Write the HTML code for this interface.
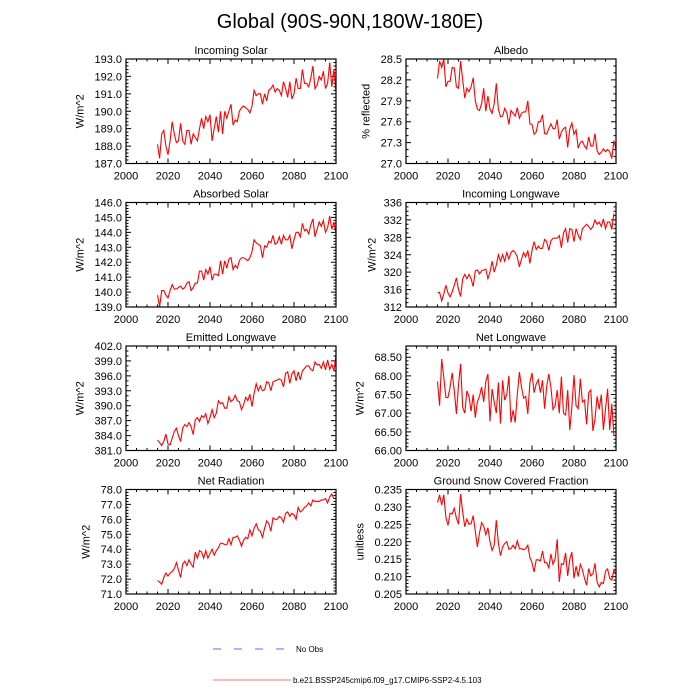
<!DOCTYPE html>
<html><head><meta charset="utf-8"><style>
html,body{margin:0;padding:0;background:#fff;}
svg{display:block;font-family:"Liberation Sans",sans-serif;}
</style></head><body>
<svg id="chart" width="700" height="700" viewBox="0 0 700 700">
<text x="350" y="28" text-anchor="middle" font-size="20">Global (90S-90N,180W-180E)</text>
<g>
<line x1="213" y1="649" x2="289" y2="649" stroke="#6666ff" stroke-width="1" stroke-dasharray="8,13"/>
<text x="296" y="652" font-size="8">No Obs</text>
<line x1="213" y1="680" x2="291" y2="680" stroke="#ff7070" stroke-width="1"/>
<text x="293" y="683" font-size="8">b.e21.BSSP245cmip6.f09_g17.CMIP6-SSP2-4.5.103</text>
</g>
</svg>
<script>
const startYear = 2015;
const xTicks = [2000,2020,2040,2060,2080,2100];
const incomingSolar = [188.1,187.3,188.7,188.9,188.0,187.5,188.3,189.4,188.7,188.2,188.3,189.3,188.3,188.1,188.9,188.9,188.1,188.7,188.5,188.3,189.0,189.6,189.0,189.7,189.4,189.8,188.3,189.0,189.7,188.8,190.0,188.7,190.0,189.6,190.0,190.4,189.2,189.5,189.4,190.0,190.2,190.3,190.2,190.1,189.9,190.3,191.2,190.9,191.0,191.0,190.4,191.0,190.6,191.2,191.3,191.5,191.1,191.3,191.2,190.9,191.7,191.3,190.8,191.7,190.7,191.0,191.9,191.3,191.3,192.4,191.6,191.6,191.4,191.9,192.6,191.3,191.5,192.0,191.8,192.3,191.3,191.6,192.8,191.4,192.4,191.1];
const albedo = [28.22,28.47,28.38,28.50,28.10,28.18,28.18,28.38,28.37,28.10,28.08,28.47,28.20,27.94,28.08,28.03,28.10,28.23,27.90,27.78,27.76,27.86,28.08,27.75,27.97,27.78,27.72,27.86,28.15,27.78,27.67,27.68,27.79,27.73,27.56,27.76,27.72,27.68,27.80,27.65,27.72,27.74,27.74,27.90,27.57,27.56,27.42,27.45,27.60,27.60,27.70,27.43,27.42,27.50,27.57,27.50,27.50,27.63,27.35,27.45,27.50,27.52,27.23,27.50,27.58,27.42,27.48,27.22,27.30,27.32,27.25,27.21,27.38,27.25,27.25,27.43,27.18,27.13,27.16,27.21,27.17,27.20,27.17,27.07,27.33,27.20];
const absorbedSolar = [139.8,139.0,140.1,140.1,139.8,139.6,140.1,140.5,140.2,140.2,140.3,140.4,140.2,140.3,140.6,140.7,140.1,140.3,140.6,140.6,141.4,141.4,140.8,141.5,141.2,141.7,140.8,141.2,141.2,141.1,142.1,141.2,142.1,141.6,142.2,142.3,141.5,141.8,141.6,142.1,142.3,142.3,142.2,142.1,142.3,142.7,143.5,143.3,143.2,143.1,142.3,143.1,143.0,143.4,143.3,143.8,143.2,143.3,143.7,143.2,143.8,143.5,143.5,143.8,142.9,143.5,144.0,144.0,143.7,144.6,144.1,144.2,143.9,144.5,144.9,143.7,144.2,144.7,144.4,144.8,144.0,144.3,145.1,144.2,144.7,143.9];
const incomingLongwave = [315.2,315.4,313.4,315.0,317.0,315.2,314.3,315.5,317.0,318.7,316.0,314.4,318.5,319.5,318.5,319.5,318.5,316.7,320.3,320.5,319.6,320.3,320.5,320.7,318.5,320.0,322.5,320.0,321.6,324.0,322.5,324.0,322.5,324.5,323.0,324.5,325.0,324.5,323.5,321.2,323.0,324.5,323.5,325.0,322.0,325.0,327.0,325.2,326.0,325.4,325.5,327.5,327.0,325.0,327.2,327.8,327.8,327.8,328.4,325.6,329.0,330.0,326.8,330.0,329.8,327.0,330.0,328.5,327.5,330.0,330.5,331.0,330.5,329.8,330.5,332.0,331.0,331.5,330.5,332.2,330.0,331.5,331.5,329.8,333.5];
const emittedLongwave = [383.1,382.6,382.0,382.8,384.3,382.3,382.1,383.5,384.8,385.5,384.0,382.8,385.5,386.2,385.8,386.6,385.8,384.2,387.2,387.6,386.8,388.0,387.6,388.4,386.4,387.6,389.2,387.6,388.5,391.0,390.4,390.6,389.5,389.5,391.8,390.8,391.2,392.1,391.0,390.8,389.2,390.2,391.7,391.0,392.3,389.8,392.5,394.4,393.0,394.0,393.0,393.2,394.8,394.6,393.0,394.8,395.0,395.2,395.4,395.1,393.8,396.5,396.8,394.5,396.4,397.0,395.0,396.8,395.2,397.0,397.5,398.0,398.0,397.3,397.0,398.8,398.2,398.3,397.5,398.8,397.2,399.2,397.3,398.3,397.0,400.2];
const netLongwave = [67.85,67.2,68.45,67.95,67.42,67.42,67.7,68.08,67.6,66.98,67.75,68.32,67.15,67.0,67.6,67.45,67.05,67.5,66.88,67.3,67.45,67.7,67.3,67.85,68.05,66.78,67.65,67.3,67.0,67.82,66.72,67.88,67.35,67.5,68.0,66.75,67.08,66.75,67.5,68.1,67.7,67.4,67.45,66.98,67.82,68.08,67.55,67.78,67.9,67.55,67.88,67.12,67.72,68.05,67.7,67.1,67.2,67.62,67.0,67.98,67.0,66.95,67.62,66.55,67.18,68.02,67.2,67.12,67.92,67.3,67.35,66.7,67.55,67.62,66.52,66.85,67.45,67.1,67.5,66.55,67.1,67.65,66.55,67.25,66.4];
const netRadiation = [71.9,71.8,71.65,72.1,72.4,72.2,72.4,72.5,72.7,73.1,72.6,72.1,73.0,73.2,72.9,73.3,73.0,72.8,73.8,73.4,73.9,73.8,73.4,73.9,73.4,73.7,74.0,73.6,73.9,74.1,74.4,74.4,74.3,74.3,74.7,74.3,74.8,74.8,74.9,74.6,74.2,74.6,74.8,74.7,75.3,74.9,75.4,75.7,75.3,75.2,74.8,75.4,75.9,75.7,75.2,76.1,76.0,76.0,76.2,76.1,75.8,76.4,76.5,76.2,76.4,76.3,76.0,76.8,76.5,76.6,76.8,76.9,77.1,76.9,77.3,77.2,77.2,77.2,77.3,77.3,77.4,77.1,77.5,77.7,77.4];
const snowFraction = [0.2312,0.2335,0.2305,0.2335,0.2270,0.2247,0.2282,0.2280,0.2296,0.2268,0.2250,0.2337,0.2285,0.2243,0.2265,0.2250,0.2252,0.2275,0.2230,0.2185,0.2225,0.2255,0.2245,0.2220,0.2240,0.2200,0.2175,0.2190,0.2262,0.2195,0.2160,0.2185,0.2195,0.2200,0.2178,0.2180,0.2190,0.2180,0.2203,0.2180,0.2180,0.2177,0.2180,0.2190,0.2155,0.2140,0.2113,0.2148,0.2148,0.2145,0.2173,0.2140,0.2140,0.2125,0.2165,0.2135,0.2150,0.2207,0.2085,0.2137,0.2135,0.2168,0.2102,0.2150,0.2170,0.2095,0.2130,0.2100,0.2135,0.2120,0.2095,0.2075,0.2123,0.2102,0.2108,0.2138,0.2085,0.2070,0.2083,0.2080,0.2115,0.2122,0.2095,0.2090,0.2120,0.2108];
const panelTitles = ["Incoming Solar","Albedo","Absorbed Solar","Incoming Longwave","Emitted Longwave","Net Longwave","Net Radiation","Ground Snow Covered Fraction"];
const yTitles = ["W/m^2","% reflected","W/m^2","W/m^2","W/m^2","W/m^2","W/m^2","unitless"];

const panels = [
 {title:panelTitles[0],yt:yTitles[0],data:incomingSolar,min:187,max:193,step:1,dec:1,minor:5},
 {title:panelTitles[1],yt:yTitles[1],data:albedo,min:27.0,max:28.5,step:0.3,dec:1,minor:3},
 {title:panelTitles[2],yt:yTitles[2],data:absorbedSolar,min:139,max:146,step:1,dec:1,minor:5},
 {title:panelTitles[3],yt:yTitles[3],data:incomingLongwave,min:312,max:336,step:4,dec:0,minor:4},
 {title:panelTitles[4],yt:yTitles[4],data:emittedLongwave,min:381,max:402,step:3,dec:1,minor:3},
 {title:panelTitles[5],yt:yTitles[5],data:netLongwave,min:66,max:68.8,step:0.5,dec:2,minor:5},
 {title:panelTitles[6],yt:yTitles[6],data:netRadiation,min:71,max:78,step:1,dec:1,minor:5},
 {title:panelTitles[7],yt:yTitles[7],data:snowFraction,min:0.205,max:0.235,step:0.005,dec:3,minor:5}
];
const NS='http://www.w3.org/2000/svg';
const svg=document.getElementById('chart');
function mk(tag,attrs,parent){const e=document.createElementNS(NS,tag);for(const k in attrs)e.setAttribute(k,attrs[k]);(parent||svg).appendChild(e);return e;}
const lefts=[126,406], tops=[59,202.5,346,489.5], W=210, H=104.5;
function slug(s){return s.toLowerCase().replace(/[^a-z0-9]+/g,'-').replace(/^-|-$/g,'');}
panels.forEach((p,i)=>{
  const L=lefts[i%2], T=tops[Math.floor(i/2)], B=T+H, R=L+W;
  const xs=v=>L+(v-2000)/100*W;
  const ys=v=>B-(v-p.min)/(p.max-p.min)*H;
  const g=mk('g',{});
  
  
  const t=mk('text',{x:(L+R)/2,y:T-5,'text-anchor':'middle','font-size':'11'},g);
  
  
  t.textContent=p.title;
  let ticks='';
  const nMaj=Math.floor((p.max-p.min)/p.step+1e-6);
  let maxLen=0;
  for(let k=0;k<=nMaj;k++){
    const v=p.min+k*p.step, y=ys(v);
    ticks+=`M${L},${y}h5M${R},${y}h-5`;
    const lb=mk('text',{x:L-4,y:y+4,'text-anchor':'end','font-size':'11'},g);
    
    
    lb.textContent=v.toFixed(p.dec);
    maxLen=Math.max(maxLen,lb.textContent.length);
  }
  const labW=maxLen*6.1;
  const yt=mk('text',{x:0,y:0,'text-anchor':'middle','font-size':'11',transform:`translate(${L-4-labW-8},${T+H/2}) rotate(-90)`},g);
  
  
  yt.textContent=p.yt;
  const ms=p.step/p.minor;
  for(let v=p.min;v<=p.max+1e-9;v+=ms){const y=ys(v);ticks+=`M${L},${y}h2.5M${R},${y}h-2.5`;}
  xTicks.forEach(v=>{
    const x=xs(v);
    ticks+=`M${x},${B}v-5M${x},${T}v5`;
    const lb=mk('text',{x:x,y:B+16,'text-anchor':'middle','font-size':'11'},g);
    
    
    lb.textContent=v;
  });
  for(let v=2000;v<=2100;v+=5){const x=xs(v);ticks+=`M${x},${B}v-2.5M${x},${T}v2.5`;}
  const tk=mk('path',{d:ticks,stroke:'#000','stroke-width':'1',fill:'none'},g);
  
  
  const pts=p.data.map((v,j)=>`${xs(startYear+j).toFixed(2)},${ys(v).toFixed(2)}`).join(' ');
  const ln=mk('polyline',{points:pts,fill:'none',stroke:'#ff0000','stroke-width':'1.1'},g);
  
  
  const fr=mk('rect',{x:L,y:T,width:W,height:H,fill:'none',stroke:'#000','stroke-width':'1.2'},g);
  
  
});
</script>
</body></html>
